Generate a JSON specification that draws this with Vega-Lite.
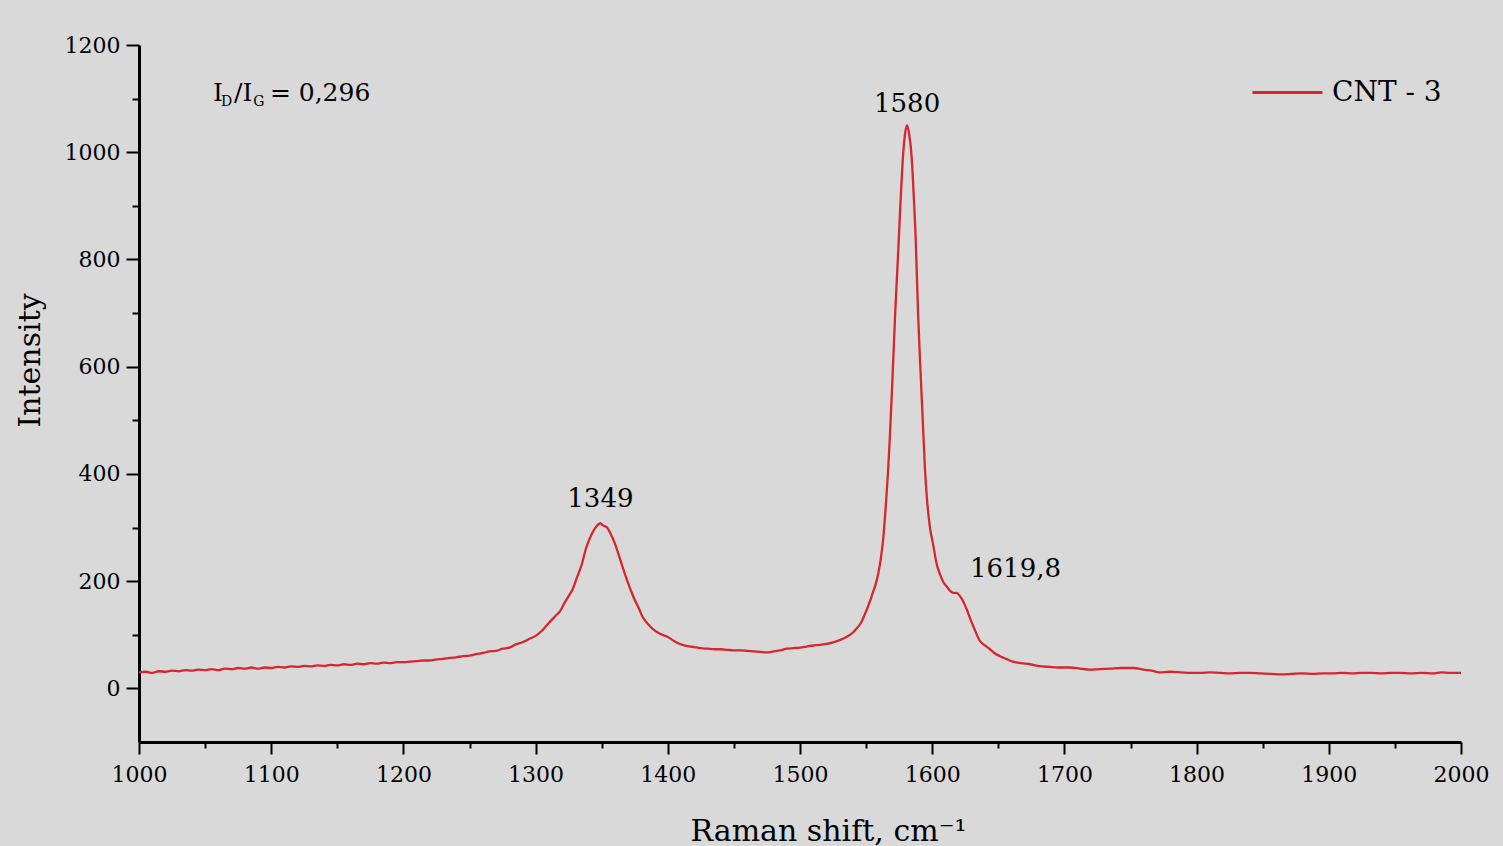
{
  "$schema": "https://vega.github.io/schema/vega-lite/v6.json",
  "width": 1322,
  "height": 697,
  "autosize": {"type": "none"},
  "padding": {"left": 139, "top": 45, "right": 42, "bottom": 104},
  "background": "#d9d9d9",
  "config": {"view": {"stroke": null}, "font": "DejaVu Serif"},
  "datasets": {
    "spectrum": [
      {"shift": 1000, "intensity": 30}, {"shift": 1005, "intensity": 31}, {"shift": 1010, "intensity": 29}, {"shift": 1015, "intensity": 32},
      {"shift": 1020, "intensity": 31}, {"shift": 1025, "intensity": 33}, {"shift": 1030, "intensity": 32}, {"shift": 1035, "intensity": 34},
      {"shift": 1040, "intensity": 33}, {"shift": 1045, "intensity": 35}, {"shift": 1050, "intensity": 34}, {"shift": 1055, "intensity": 36},
      {"shift": 1060, "intensity": 34}, {"shift": 1065, "intensity": 37}, {"shift": 1070, "intensity": 36}, {"shift": 1075, "intensity": 38},
      {"shift": 1080, "intensity": 37}, {"shift": 1085, "intensity": 39}, {"shift": 1090, "intensity": 37}, {"shift": 1095, "intensity": 39},
      {"shift": 1100, "intensity": 38}, {"shift": 1105, "intensity": 40}, {"shift": 1110, "intensity": 39}, {"shift": 1115, "intensity": 41},
      {"shift": 1120, "intensity": 40}, {"shift": 1125, "intensity": 42}, {"shift": 1130, "intensity": 41}, {"shift": 1135, "intensity": 43},
      {"shift": 1140, "intensity": 42}, {"shift": 1145, "intensity": 44}, {"shift": 1150, "intensity": 43}, {"shift": 1155, "intensity": 45},
      {"shift": 1160, "intensity": 44}, {"shift": 1165, "intensity": 46}, {"shift": 1170, "intensity": 45}, {"shift": 1175, "intensity": 47},
      {"shift": 1180, "intensity": 46}, {"shift": 1185, "intensity": 48}, {"shift": 1190, "intensity": 47}, {"shift": 1195, "intensity": 49},
      {"shift": 1200, "intensity": 49}, {"shift": 1205, "intensity": 50}, {"shift": 1210, "intensity": 51}, {"shift": 1215, "intensity": 52},
      {"shift": 1220, "intensity": 52}, {"shift": 1225, "intensity": 54}, {"shift": 1230, "intensity": 55}, {"shift": 1235, "intensity": 57},
      {"shift": 1240, "intensity": 58}, {"shift": 1245, "intensity": 60}, {"shift": 1250, "intensity": 61}, {"shift": 1255, "intensity": 64},
      {"shift": 1260, "intensity": 66}, {"shift": 1265, "intensity": 69}, {"shift": 1270, "intensity": 70}, {"shift": 1275, "intensity": 74},
      {"shift": 1280, "intensity": 76}, {"shift": 1285, "intensity": 82}, {"shift": 1290, "intensity": 86}, {"shift": 1295, "intensity": 92},
      {"shift": 1300, "intensity": 98}, {"shift": 1305, "intensity": 108}, {"shift": 1310, "intensity": 122}, {"shift": 1315, "intensity": 135},
      {"shift": 1318.5, "intensity": 144}, {"shift": 1322, "intensity": 160}, {"shift": 1325, "intensity": 172}, {"shift": 1328, "intensity": 185},
      {"shift": 1331, "intensity": 205}, {"shift": 1335, "intensity": 232}, {"shift": 1338, "intensity": 260}, {"shift": 1341, "intensity": 280},
      {"shift": 1344, "intensity": 295}, {"shift": 1347, "intensity": 305}, {"shift": 1349, "intensity": 308}, {"shift": 1351, "intensity": 304},
      {"shift": 1354, "intensity": 300}, {"shift": 1357, "intensity": 287}, {"shift": 1360, "intensity": 270}, {"shift": 1363, "intensity": 248},
      {"shift": 1366, "intensity": 225}, {"shift": 1369, "intensity": 203}, {"shift": 1372, "intensity": 183}, {"shift": 1375, "intensity": 165},
      {"shift": 1378, "intensity": 150}, {"shift": 1381, "intensity": 133}, {"shift": 1385, "intensity": 120}, {"shift": 1389, "intensity": 110},
      {"shift": 1394, "intensity": 102}, {"shift": 1400, "intensity": 96}, {"shift": 1405, "intensity": 88}, {"shift": 1410, "intensity": 82},
      {"shift": 1415, "intensity": 79}, {"shift": 1420, "intensity": 77}, {"shift": 1425, "intensity": 75}, {"shift": 1430, "intensity": 74},
      {"shift": 1435, "intensity": 73}, {"shift": 1440, "intensity": 73}, {"shift": 1445, "intensity": 72}, {"shift": 1450, "intensity": 71},
      {"shift": 1455, "intensity": 71}, {"shift": 1460, "intensity": 70}, {"shift": 1465, "intensity": 69}, {"shift": 1470, "intensity": 68},
      {"shift": 1475, "intensity": 67}, {"shift": 1480, "intensity": 69}, {"shift": 1485, "intensity": 71}, {"shift": 1490, "intensity": 74},
      {"shift": 1495, "intensity": 75}, {"shift": 1500, "intensity": 76}, {"shift": 1505, "intensity": 78}, {"shift": 1510, "intensity": 80},
      {"shift": 1515, "intensity": 81}, {"shift": 1520, "intensity": 83}, {"shift": 1525, "intensity": 86}, {"shift": 1530, "intensity": 90},
      {"shift": 1535, "intensity": 96}, {"shift": 1540, "intensity": 104}, {"shift": 1543, "intensity": 112}, {"shift": 1546, "intensity": 122},
      {"shift": 1549, "intensity": 138}, {"shift": 1551, "intensity": 150}, {"shift": 1553, "intensity": 163}, {"shift": 1555, "intensity": 178},
      {"shift": 1557, "intensity": 192}, {"shift": 1559, "intensity": 212}, {"shift": 1561, "intensity": 240}, {"shift": 1563, "intensity": 280},
      {"shift": 1565, "intensity": 345}, {"shift": 1566.5, "intensity": 400}, {"shift": 1568, "intensity": 470}, {"shift": 1570, "intensity": 580},
      {"shift": 1572, "intensity": 700}, {"shift": 1574, "intensity": 800}, {"shift": 1576, "intensity": 905}, {"shift": 1578, "intensity": 995},
      {"shift": 1579.5, "intensity": 1035}, {"shift": 1581, "intensity": 1050}, {"shift": 1582.5, "intensity": 1035}, {"shift": 1584.5, "intensity": 990},
      {"shift": 1586, "intensity": 920}, {"shift": 1587.5, "intensity": 840}, {"shift": 1589.3, "intensity": 700}, {"shift": 1591, "intensity": 600},
      {"shift": 1592.5, "intensity": 520}, {"shift": 1594.5, "intensity": 410}, {"shift": 1596, "intensity": 355}, {"shift": 1598.3, "intensity": 300},
      {"shift": 1600.6, "intensity": 270}, {"shift": 1603.4, "intensity": 232}, {"shift": 1606, "intensity": 212}, {"shift": 1608.5, "intensity": 198},
      {"shift": 1611, "intensity": 190}, {"shift": 1613.5, "intensity": 182}, {"shift": 1616, "intensity": 178}, {"shift": 1618.5, "intensity": 178},
      {"shift": 1621, "intensity": 172}, {"shift": 1623.3, "intensity": 163}, {"shift": 1626, "intensity": 148}, {"shift": 1628.6, "intensity": 131},
      {"shift": 1632.4, "intensity": 108}, {"shift": 1636.2, "intensity": 88}, {"shift": 1640, "intensity": 80}, {"shift": 1643.7, "intensity": 73},
      {"shift": 1647, "intensity": 66}, {"shift": 1651.3, "intensity": 60}, {"shift": 1656, "intensity": 55}, {"shift": 1661, "intensity": 50},
      {"shift": 1667, "intensity": 47}, {"shift": 1674, "intensity": 45}, {"shift": 1680, "intensity": 42}, {"shift": 1689, "intensity": 40},
      {"shift": 1695, "intensity": 39}, {"shift": 1704, "intensity": 39}, {"shift": 1712, "intensity": 37}, {"shift": 1719, "intensity": 35},
      {"shift": 1727, "intensity": 36}, {"shift": 1735, "intensity": 37}, {"shift": 1743, "intensity": 38}, {"shift": 1752, "intensity": 38},
      {"shift": 1760, "intensity": 35}, {"shift": 1766, "intensity": 33}, {"shift": 1772, "intensity": 30}, {"shift": 1780, "intensity": 31},
      {"shift": 1788, "intensity": 30}, {"shift": 1795, "intensity": 29}, {"shift": 1803, "intensity": 29}, {"shift": 1810, "intensity": 30},
      {"shift": 1818, "intensity": 29}, {"shift": 1825, "intensity": 28}, {"shift": 1833, "intensity": 29}, {"shift": 1840, "intensity": 29},
      {"shift": 1848, "intensity": 28}, {"shift": 1856, "intensity": 27}, {"shift": 1865, "intensity": 26}, {"shift": 1872, "intensity": 27},
      {"shift": 1880, "intensity": 28}, {"shift": 1888, "intensity": 27}, {"shift": 1895, "intensity": 28}, {"shift": 1903, "intensity": 28},
      {"shift": 1910, "intensity": 29}, {"shift": 1918, "intensity": 28}, {"shift": 1925, "intensity": 29}, {"shift": 1932, "intensity": 29},
      {"shift": 1940, "intensity": 28}, {"shift": 1947, "intensity": 29}, {"shift": 1954, "intensity": 29}, {"shift": 1962, "intensity": 28},
      {"shift": 1970, "intensity": 29}, {"shift": 1979, "intensity": 28}, {"shift": 1985, "intensity": 30}, {"shift": 1992, "intensity": 29},
      {"shift": 2000, "intensity": 29}
    ],
    "peaks": [
      {"x": 1349, "y": 338, "label": "1349"},
      {"x": 1581, "y": 1075, "label": "1580"},
      {"x": 1663, "y": 207, "label": "1619,8"}
    ],
    "ratioMain": [
      {"x": 1056, "y": 1095, "label": "I"},
      {"x": 1071.9, "y": 1095, "label": "/I"},
      {"x": 1099, "y": 1095, "label": "= 0,296"}
    ],
    "ratioSub": [
      {"x": 1062, "y": 1086, "label": "D"},
      {"x": 1086.5, "y": 1086, "label": "G"}
    ]
  },
  "layer": [
    {
      "data": {"name": "spectrum"},
      "mark": {"type": "line", "strokeWidth": 2.3, "interpolate": "monotone"},
      "encoding": {
        "x": {
          "field": "shift", "type": "quantitative",
          "scale": {"domain": [1000, 2000], "nice": false, "zero": false},
          "axis": {
            "title": "Raman shift, cm⁻¹",
            "values": [1000, 1050, 1100, 1150, 1200, 1250, 1300, 1350, 1400, 1450, 1500, 1550, 1600, 1650, 1700, 1750, 1800, 1850, 1900, 1950, 2000],
            "format": "d",
            "labelExpr": "datum.value % 100 === 0 ? datum.label : ''",
            "labelFlush": false,
            "tickSize": {"condition": {"test": "datum.value % 100 === 0", "value": 12}, "value": 6},
            "tickWidth": 2, "tickColor": "black",
            "domainColor": "black", "domainWidth": 3,
            "labelFontSize": 22, "labelColor": "black", "labelPadding": 10, "labelFont": "DejaVu Serif",
            "grid": false,
            "titleFontSize": 30, "titleFontWeight": "normal", "titleColor": "black", "titleFont": "DejaVu Serif",
            "titleX": 689, "titleY": 98, "titleBaseline": "alphabetic"
          }
        },
        "y": {
          "field": "intensity", "type": "quantitative",
          "scale": {"domain": [-100, 1200], "nice": false, "zero": false},
          "axis": {
            "title": "Intensity",
            "values": [0, 100, 200, 300, 400, 500, 600, 700, 800, 900, 1000, 1100, 1200],
            "labelExpr": "datum.value % 200 === 0 ? datum.label : ''",
            "labelFlush": false,
            "format": "d",
            "tickSize": {"condition": {"test": "datum.value % 200 === 0", "value": 13}, "value": 7},
            "tickWidth": 2, "tickColor": "black",
            "domainColor": "black", "domainWidth": 3,
            "labelFontSize": 22, "labelColor": "black", "labelPadding": 6, "labelFont": "DejaVu Serif",
            "grid": false,
            "titleFontSize": 30, "titleFontWeight": "normal", "titleColor": "black", "titleFont": "DejaVu Serif",
            "titleX": -100, "titleY": 315, "titleBaseline": "alphabetic"
          }
        },
        "color": {
          "datum": "CNT - 3", "type": "nominal",
          "scale": {"range": ["#d7262d"]},
          "legend": {
            "title": null, "orient": "none", "legendX": 1112, "legendY": 11,
            "symbolType": "stroke", "symbolSize": 4900, "symbolStrokeWidth": 3,
            "labelFont": "DejaVu Serif", "labelFontSize": 28, "labelColor": "black", "labelOffset": 8,
            "padding": 0
          }
        }
      }
    },
    {
      "data": {"name": "peaks"},
      "mark": {"type": "text", "fontSize": 26, "baseline": "alphabetic", "align": "center", "color": "black", "font": "DejaVu Serif"},
      "encoding": {
        "x": {"field": "x", "type": "quantitative"},
        "y": {"field": "y", "type": "quantitative"},
        "text": {"field": "label"}
      }
    },
    {
      "data": {"name": "ratioMain"},
      "mark": {"type": "text", "fontSize": 25, "baseline": "alphabetic", "align": "left", "color": "black", "font": "DejaVu Serif"},
      "encoding": {
        "x": {"field": "x", "type": "quantitative"},
        "y": {"field": "y", "type": "quantitative"},
        "text": {"field": "label"}
      }
    },
    {
      "data": {"name": "ratioSub"},
      "mark": {"type": "text", "fontSize": 14, "baseline": "alphabetic", "align": "left", "color": "black", "font": "DejaVu Serif"},
      "encoding": {
        "x": {"field": "x", "type": "quantitative"},
        "y": {"field": "y", "type": "quantitative"},
        "text": {"field": "label"}
      }
    }
  ]
}
